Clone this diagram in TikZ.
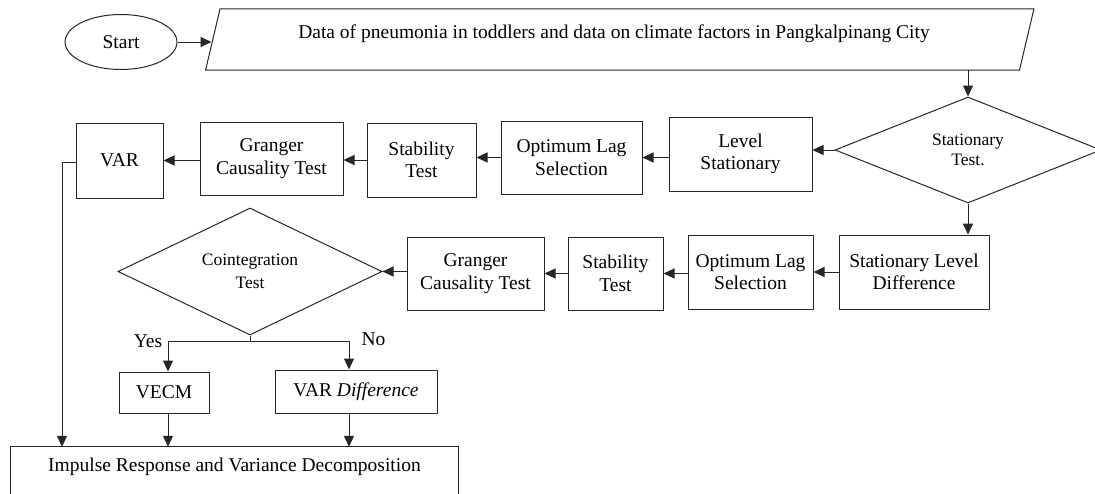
\documentclass[tikz,border=0pt]{standalone}
\usepackage{fontspec}
\setmainfont{Liberation Serif}
\usetikzlibrary{shapes.geometric,arrows.meta}
\begin{document}
\begin{tikzpicture}[x=1pt,y=-1pt,
  every node/.style={font=\fontsize{19.5}{22.5}\selectfont, align=center, inner sep=0pt},
  ln/.style={line width=1pt, draw=black!85},
  box/.style={draw=black!85, line width=1pt, rectangle},
  dec/.style={draw=black!85, diamond, line width=1pt, aspect=2.5, font=\fontsize{17.5}{22.5}\selectfont},
  arr/.style={line width=1pt, draw=black!85, -{Triangle[length=11pt,width=10pt]}}]
\useasboundingbox (0,0) rectangle (1095,493);

% top
\node[draw=black!85, ellipse, line width=1pt, minimum width=112, minimum height=55] (start) at (121,42) {Start};
\node[minimum width=813.5, minimum height=61] (data) at (619.75,39.5) {};
\draw[ln] ([xshift=-7.25pt]data.south west) -- ([xshift=7.25pt]data.north west) -- ([xshift=7.25pt]data.north east) -- ([xshift=-7.25pt]data.south east) -- cycle;
\node (datatext) at (614,34) {Data of pneumonia in toddlers and data on climate factors in Pangkalpinang City};
\coordinate (dataL) at (211.5,42);

% row 1
\node[dec, minimum width=266, minimum height=106] (st) at (968,150) {\raisebox{-3pt}{\shortstack{Stationary\\[2pt]Test.}}};
\node[box, minimum width=143, minimum height=74] (ls) at (740.5,154) {Level\\Stationary};
\node[box, minimum width=141, minimum height=73] (olsa) at (571.5,157.5) {Optimum Lag\\Selection};
\node[box, minimum width=109, minimum height=74] (sta) at (421.5,160) {Stability\\Test};
\node[box, minimum width=143, minimum height=73] (gca) at (271.5,158.5) {Granger\\Causality Test};
\node[box, minimum width=87, minimum height=75] (var) at (119.5,160.5) {VAR};

% row 2
\node[box, minimum width=150, minimum height=74] (sld) at (914,272) {Stationary Level\\Difference};
\node[box, minimum width=125, minimum height=74] (olsb) at (750.5,272) {Optimum Lag\\Selection};
\node[box, minimum width=95, minimum height=73] (stb) at (615.5,273.5) {Stability\\Test};
\node[box, minimum width=137, minimum height=73] (gcb) at (475.5,273.5) {Granger\\Causality Test};
\node[dec, minimum width=264, minimum height=127] (co) at (250,271.5) {Cointegration\\Test};

% row 3
\node[box, minimum width=90, minimum height=41] (vecm) at (164,392.5) {VECM};
\node[box, minimum width=162, minimum height=43] (vard) at (356,391.5) {VAR \textit{Difference}};
\node[minimum width=447, minimum height=40] (ir) at (234.5,467) {Impulse Response and Variance Decomposition};
\draw[ln] ([yshift=-40pt]ir.south west) |- (ir.north east) -- ([yshift=-40pt]ir.south east);

\node[anchor=base] (yes) at (148,347) {Yes};
\node[anchor=base] (no) at (373.5,345) {No};

% connectors
\draw[arr] (start.east) -- (dataL);
\draw[arr] (data.south -| st.north) -- (st.north);
\draw[arr] (st.west) -- (st.west -| ls.east);
\draw[arr] (olsa.east -| ls.west) -- (olsa.east);
\draw[arr] (olsa.west) -- (olsa.west -| sta.east);
\draw[arr] (sta.west) -- (sta.west -| gca.east);
\draw[arr] (var.east -| gca.west) -- (var.east);
\coordinate (vl) at (62,162);
\draw[arr] (var.west |- vl) -- (vl) -- (vl |- ir.north);

\draw[arr] (st.south) -- (st.south |- sld.north);
\draw[arr] (sld.west) -- (sld.west -| olsb.east);
\draw[arr] (stb.east -| olsb.west) -- (stb.east);
\draw[arr] (stb.west) -- (stb.west -| gcb.east);
\draw[arr] (co.east -| gcb.west) -- (co.east);

\coordinate (split) at (250,341);
\coordinate (yesx) at (168,341);
\coordinate (nox) at (349,341);
\draw[ln] (co.south) -- (split);
\draw[ln] (yesx) -- (nox);
\draw[arr] (yesx) -- (yesx |- vecm.north);
\draw[arr] (nox) -- (nox |- vard.north);
\draw[arr] (yesx |- vecm.south) -- (yesx |- ir.north);
\draw[arr] (nox |- vard.south) -- (nox |- ir.north);
\end{tikzpicture}
\end{document}
